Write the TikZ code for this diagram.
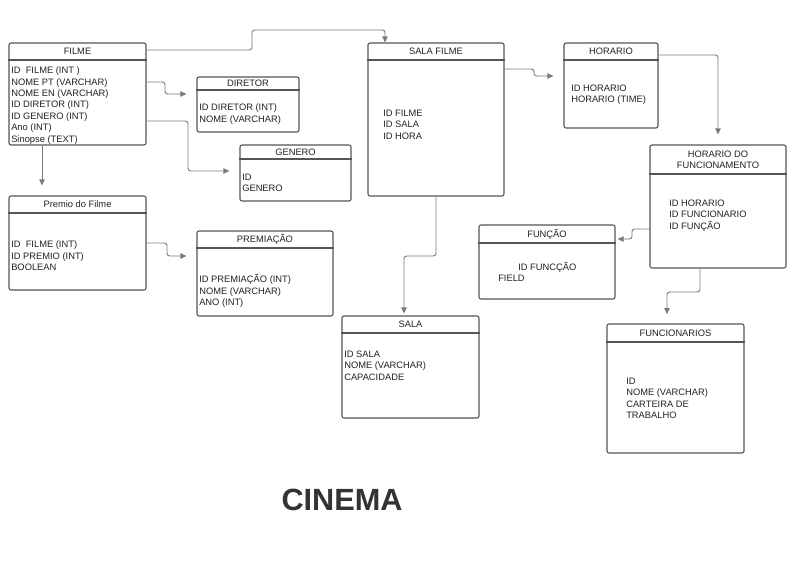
\documentclass[tikz,border=0pt]{standalone}
\usepackage{fontspec}
\setmainfont{Liberation Sans}
\usetikzlibrary{fit,arrows.meta,calc}
\definecolor{boxgray}{HTML}{555555}
\definecolor{linegray}{HTML}{7A7A7A}
\definecolor{txt}{HTML}{222222}
\tikzset{
  erb/.style={draw=boxgray, line width=0.8pt, rounded corners=1.5pt, inner sep=0pt, fill=white},
  erbline/.style={draw=boxgray, line width=0.9pt},
  ttl/.style={inner sep=0pt, align=center, text=txt, font=\fontsize{7}{8.3}\selectfont},
  body/.style={anchor=north west, align=left, inner sep=0pt, text=txt, font=\fontsize{7}{8.6}\selectfont},
  conn/.style={draw=linegray, line width=0.7pt, rounded corners=2pt, -{Triangle[length=4.5pt,width=4pt]}},
}
\newcommand\erbox[7]{%
  \node[erb, fit={(#2,#3)(#4,#5)}] (#1) {};
  \draw[erbline] (#1.west |- 0,#6) -- (#1.east |- 0,#6);
  \node[ttl] (#1-t) at ({(#2+#4)/2},{(#3+#6)/2}) {#7};
}
\begin{document}
\begin{tikzpicture}[x=0.75pt,y=-0.75pt]
\useasboundingbox (0,0) rectangle (800,565);
\fill[white] (0,0) rectangle (800,565);

\erbox{filme}{9}{43}{146}{145}{60}{FILME}
\node[body] (filme-b) at (11,66.5) {ID\ \ FILME (INT\ )\\NOME PT (VARCHAR)\\NOME EN (VARCHAR)\\ID DIRETOR (INT)\\ID GENERO (INT)\\Ano (INT)\\Sinopse (TEXT)};

\erbox{diretor}{197}{77}{299}{132}{90}{DIRETOR}
\node[body] (diretor-b) at (199,103.5) {ID DIRETOR (INT)\\NOME (VARCHAR)};

\erbox{genero}{240}{145}{351}{201}{159}{GENERO}
\node[body] (genero-b) at (242,173.5) {ID\\GENERO};

\erbox{premio}{9}{196}{146}{290}{213}{Premio do Filme}
\node[body] (premio-b) at (11,240.5) {ID\ \ FILME (INT)\\ID PREMIO (INT)\\BOOLEAN};

\erbox{premiacao}{197}{231}{333}{316}{248}{PREMIAÇÃO}
\node[body] (premiacao-b) at (199,274.5) {ID PREMIAÇÃO (INT)\\NOME (VARCHAR)\\ANO (INT)};

\erbox{salafilme}{368}{43}{504}{196}{60}{SALA FILME}
\node[body] (salafilme-b) at (383,109.5) {ID FILME\\ID SALA\\ID HORA};

\erbox{horario}{564}{43}{658}{128}{60}{HORARIO}
\node[body] (horario-b) at (571,84.5) {ID HORARIO\\HORARIO (TIME)};

\erbox{hdf}{650}{145}{786}{268}{174}{HORARIO DO\\FUNCIONAMENTO}
\node[body] (hdf-b) at (669,199.5) {ID HORARIO\\ID FUNCIONARIO\\ID FUNÇÃO};

\erbox{funcao}{479}{225}{615}{299}{243}{FUNÇÃO}
\node[body] (funcao-b) at (498,262) {\hspace*{15pt}ID FUNCÇÃO\\FIELD};

\erbox{sala}{342}{316}{479}{418}{333}{SALA}
\node[body] (sala-b) at (344,350.5) {ID SALA\\NOME (VARCHAR)\\CAPACIDADE};

\erbox{funcionarios}{607}{324}{744}{453}{342}{FUNCIONARIOS}
\node[body] (funcionarios-b) at (626,377.5) {ID\\NOME (VARCHAR)\\CARTEIRA DE\\TRABALHO};

\node[inner sep=0pt, text={rgb,255:red,51;green,51;blue,51}, font=\fontsize{23}{26}\selectfont\bfseries] (cinema) at (342,500) {CINEMA};

% connectors
\draw[conn] (filme.east |- 0,50) -- (252,50) -- (252,30) -- (385,30) -- (salafilme.north -| 385,0);
\draw[conn, shorten >=7.5pt] (filme.east |- 0,82) -- (165,82) -- (165,94) -- (diretor.west |- 0,94);
\draw[conn, shorten >=7.5pt] (filme.east |- 0,121) -- (188,121) -- (188,171) -- (genero.west |- 0,171);
\draw[conn, shorten >=7.5pt] (filme.south -| 42,0) -- (premio.north -| 42,0);
\draw[conn, shorten >=7.5pt] (premio.east |- 0,243) -- (167,243) -- (167,256) -- (premiacao.west |- 0,256);
\draw[conn, shorten >=7.5pt] (salafilme.east |- 0,69) -- (534,69) -- (534,76) -- (horario.west |- 0,76);
\draw[conn, shorten >=7.5pt] (horario.east |- 0,55) -- (718,55) -- (hdf.north -| 718,0);
\draw[conn, shorten >=1.5pt] (hdf.west |- 0,229) -- (632,229) -- (632,239) -- (funcao.east |- 0,239);
\draw[conn, shorten >=1.5pt] (salafilme.south -| 436,0) -- (436,256) -- (404,256) -- (sala.north -| 404,0);
\draw[conn, shorten >=7pt] (hdf.south -| 700,0) -- (700,292) -- (667,292) -- (funcionarios.north -| 667,0);
\end{tikzpicture}
\end{document}
